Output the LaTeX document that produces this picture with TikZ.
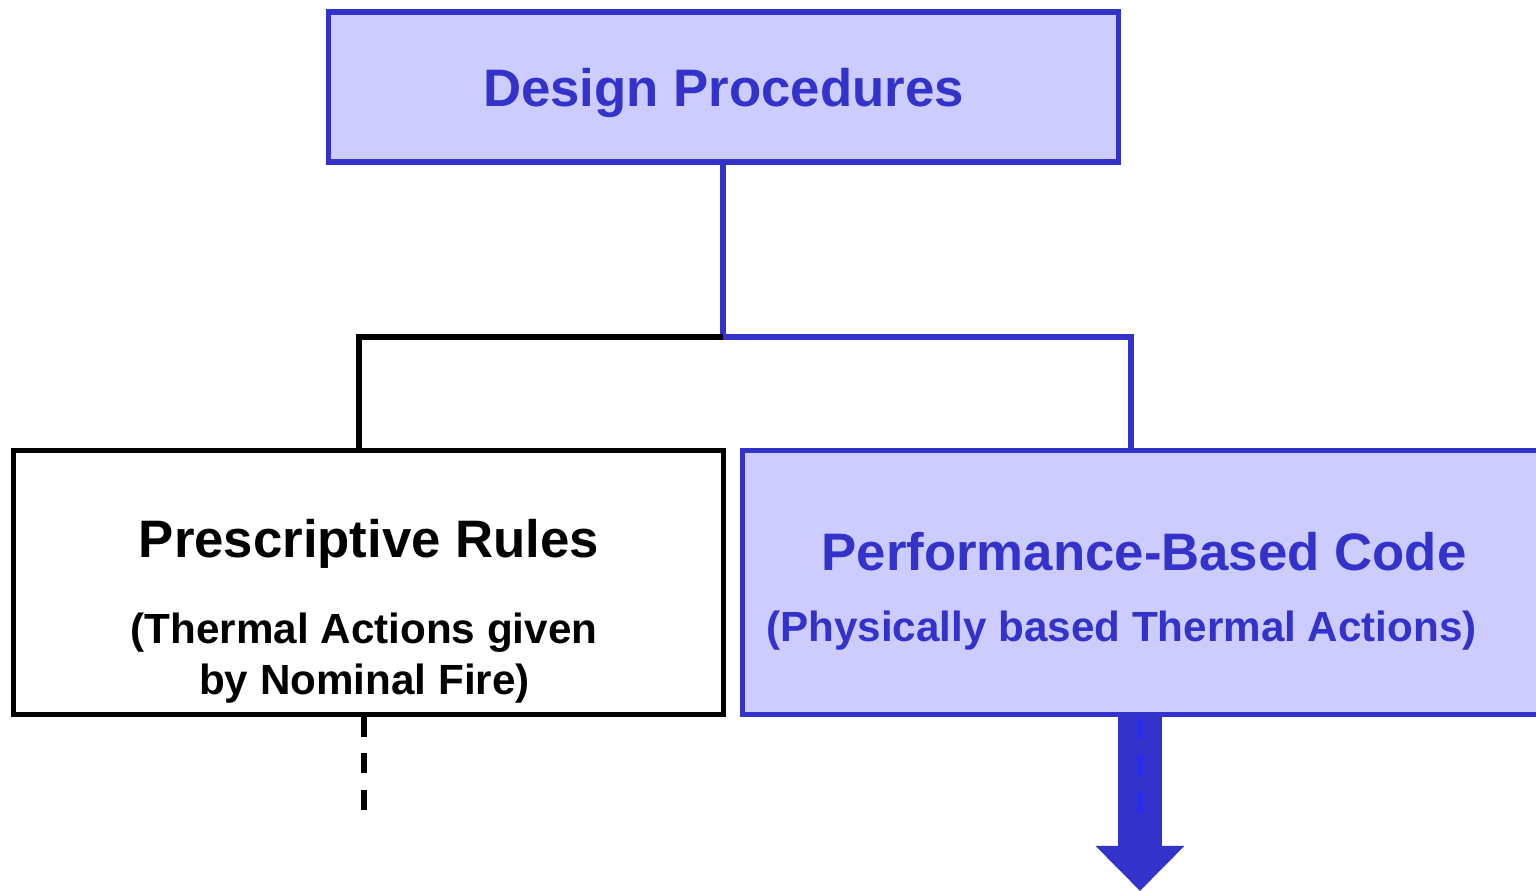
\documentclass[tikz,border=0pt]{standalone}
\usepackage{fontspec}
\setmainfont{Liberation Sans}
\usepackage{xcolor}
\usetikzlibrary{arrows.meta}
\definecolor{dpblue}{HTML}{3333CC}
\definecolor{dpfill}{HTML}{CCCCFF}
\definecolor{dpdash}{HTML}{2A2AF0}
\begin{document}
\begin{tikzpicture}[
      x=0.01cm, y=-0.01cm,
      box/.style={rectangle, draw=black, line width=1.45pt, fill=white},
      bluebox/.style={rectangle, draw=dpblue, line width=1.45pt, fill=dpfill},
      title/.style={anchor=base, font=\fontsize{15}{18}\selectfont\bfseries},
      sub/.style={anchor=base, font=\fontsize{12}{14}\selectfont\bfseries},
      link/.style={draw=black, line width=1.45pt},
      bluelink/.style={draw=dpblue, line width=1.45pt},
      fatarrow/.style={draw=dpblue, line width=0.44cm,
                       -{Triangle[length=0.45cm, width=0.86cm]}}
    ]
    \useasboundingbox (0,0) rectangle (1536,891);
    \clip (0,0) rectangle (1536,891);
    % boxes
    \node[bluebox, minimum width=7.89cm, minimum height=1.50cm] (design) at (723.5,87) {};
    \node[box, minimum width=7.09cm, minimum height=2.63cm] (presc) at (368.5,582.5) {};
    \node[bluebox, minimum width=8.10cm, minimum height=2.63cm] (perf) at (1148,582.5) {};
    % texts
    \node[title, text=dpblue] (designtxt) at (723.5,107) {Design Procedures};
    \node[title] (presctxt) at (369,557) {Prescriptive Rules};
    \node[sub] (prescsub) at (364,643) {(Thermal Actions given};
    \node[sub] (prescsubb) at (364.5,694) {by Nominal Fire)};
    \node[title, text=dpblue] (perftxt) at (1144,570) {Performance-Based Code};
    \node[sub, text=dpblue] (perfsub) at (1121.5,641) {(Physically based Thermal Actions)};
    % tree
    \coordinate (junction) at (723,337);
    \coordinate (ljoin) at (359,337);
    \coordinate (rjoin) at (1131,337);
    \draw[bluelink] (design.south -| junction) -- (junction);
    \draw[link] (junction) -- (ljoin) -- (ljoin |- presc.north);
    \draw[bluelink] (junction) -- (rjoin) -- (rjoin |- perf.north);
    % continuations
    \coordinate (lend) at (364,811);
    \draw[link, line width=1.6pt, dash pattern=on 0.2cm off 0.165cm]
      (lend |- presc.south) -- (lend);
    \coordinate (aend) at (1140,891);
    \draw[fatarrow] (aend |- perf.south) -- (aend);
    \draw[draw=dpdash, line width=1.7pt, dash pattern=on 0.21cm off 0.16cm]
      (1140,718) -- (1140,816);
  \end{tikzpicture}
\end{document}
